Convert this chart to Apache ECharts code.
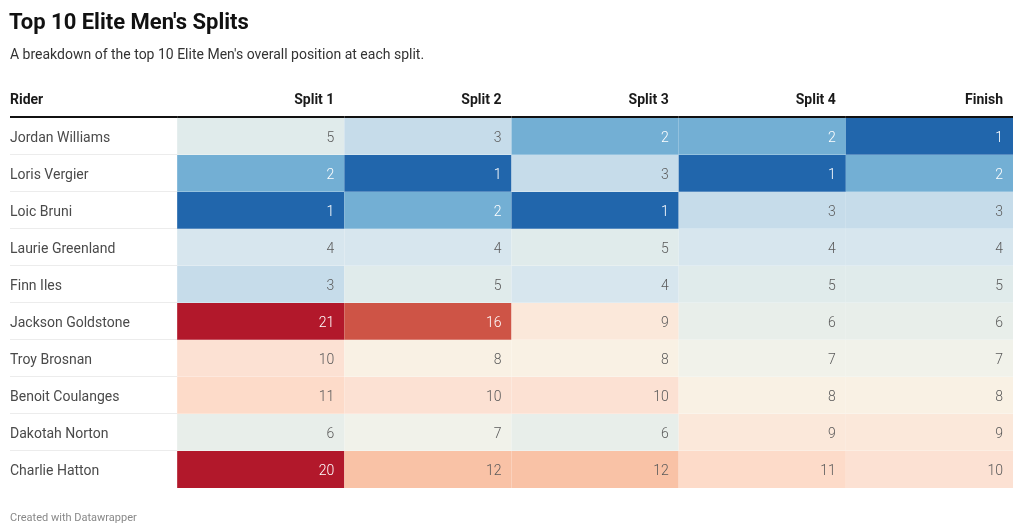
<!DOCTYPE html>
<html>
<head>
<meta charset="utf-8">
<script src="https://cdn.jsdelivr.net/npm/echarts@6/dist/echarts.min.js"></script>
<style>
html,body{margin:0;padding:0;background:#fff;}
#chart{width:1024px;height:532px;}
</style>
</head>
<body>
<div id="chart"></div>
<script>
// ---- data ----
const riders = ['Jordan Williams','Loris Vergier','Loic Bruni','Laurie Greenland','Finn Iles','Jackson Goldstone','Troy Brosnan','Benoit Coulanges','Dakotah Norton','Charlie Hatton'];
const columns = ['Split 1','Split 2','Split 3','Split 4','Finish'];
const split1 = [5, 2, 1, 4, 3, 21, 10, 11, 6, 20];
const split2 = [3, 1, 2, 4, 5, 16, 8, 10, 7, 12];
const split3 = [2, 3, 1, 5, 4, 9, 8, 10, 6, 12];
const split4 = [2, 1, 3, 4, 5, 6, 7, 8, 9, 11];
const finish = [1, 2, 3, 4, 5, 6, 7, 8, 9, 10];
const headerFirst = 'Rider';

// ---- colour scale (diverging) ----
const colorStops = [
  [1, '#2166ac'], [2, '#73afd4'], [3, '#c6dcea'], [4, '#d7e6ee'], [5, '#e0ebeb'],
  [6, '#e8eeea'], [7, '#f1f2ea'], [8, '#f9f1e4'], [9, '#fbe8da'], [10, '#fce1d3'],
  [11, '#fddbc9'], [12, '#f9c2a6'], [16, '#ce5446'], [20, '#b2182b'], [21, '#b2182b']
];
function hex2rgb(h){return [parseInt(h.slice(1,3),16),parseInt(h.slice(3,5),16),parseInt(h.slice(5,7),16)];}
function colorFor(v){
  for (let i=0;i<colorStops.length-1;i++){
    const a=colorStops[i], b=colorStops[i+1];
    if (v>=a[0] && v<=b[0]){
      const t=(v-a[0])/(b[0]-a[0]);
      const ca=hex2rgb(a[1]), cb=hex2rgb(b[1]);
      return 'rgb('+ca.map((x,k)=>Math.round(x+(cb[k]-x)*t)).join(',')+')';
    }
  }
  return colorStops[colorStops.length-1][1];
}
function textFor(v){ return (v<=2 || v>=14) ? '#ffffff' : '#5a5a5a'; }

const cols = [split1, split2, split3, split4, finish];
const data = [];
riders.forEach((r, ri) => {
  data.push([0, ri, 0]);
  cols.forEach((arr, ci) => data.push([ci+1, ri, arr[ri]]));
});
const xCats = [headerFirst].concat(columns);
const FONT = 'Roboto, "Noto Sans", sans-serif';

const chart = echarts.init(document.getElementById('chart'), null, {renderer:'canvas'});
chart.setOption({
  backgroundColor: '#ffffff',
  animation: false,
  title: [
    {text: "Top 10 Elite Men's Splits", left: 4, top: 7,
     textStyle: {fontFamily: FONT, fontSize: 22, fontWeight: 'bold', color: '#111'}},
    {text: "A breakdown of the top 10 Elite Men's overall position at each split.", left: 5, top: 43,
     textStyle: {fontFamily: FONT, fontSize: 14, fontWeight: 'normal', color: '#333'}},
    {text: 'Created with Datawrapper', left: 5, top: 508,
     textStyle: {fontFamily: FONT, fontSize: 11, fontWeight: 'normal', color: '#888'}}
  ],
  grid: {left: 10, right: 11, top: 118, bottom: 44},
  xAxis: {type: 'category', data: xCats, position: 'top', show: false},
  yAxis: {type: 'category', data: riders, inverse: true, show: false},
  series: [{
    type: 'custom',
    data: data,
    clip: false,
    renderItem: function (params, api) {
      const c = api.value(0), r = api.value(1), v = api.value(2);
      const center = api.coord([c, r]);
      const size = api.size([1, 1]);
      const w = size[0], h = size[1];
      const x0 = center[0] - w/2, y0 = center[1] - h/2;
      const ty = center[1] + 1.5;
      const children = [];
      if (c === 0) {
        if (r < riders.length - 1) {
          children.push({type:'line', shape:{x1:x0, y1:y0+h-0.5, x2:x0+w, y2:y0+h-0.5},
            style:{stroke:'#ececec', lineWidth:1}});
        }
        children.push({type:'text', style:{text: riders[r], x: x0, y: ty,
          textAlign:'left', textVerticalAlign:'middle', fill:'#4a4a4a',
          font: '14px ' + FONT}});
      } else {
        children.push({type:'rect', shape:{x:x0, y:y0, width:w, height:h},
          style:{fill: colorFor(v)}});
        if (r < riders.length - 1) {
          children.push({type:'line', shape:{x1:x0, y1:y0+h-0.5, x2:x0+w, y2:y0+h-0.5},
            style:{stroke:'rgba(255,255,255,0.25)', lineWidth:1}});
        }
        children.push({type:'text', style:{text: String(v), x: x0 + w - 10, y: ty,
          textAlign:'right', textVerticalAlign:'middle', fill: textFor(v),
          font: '300 14px ' + FONT}});
      }
      if (r === 0) {
        children.push({type:'line', shape:{x1:x0, y1:y0-1, x2:x0+w, y2:y0-1},
          style:{stroke:'#111', lineWidth:2}});
        children.push({type:'text', style:{text: xCats[c],
          x: c === 0 ? x0 : x0 + w - 10, y: y0 - 17.5,
          textAlign: c === 0 ? 'left' : 'right', textVerticalAlign:'middle',
          fill:'#1a1a1a', font: 'bold 14px ' + FONT}});
      }
      return {type:'group', children: children};
    }
  }]
});
</script>
</body>
</html>
